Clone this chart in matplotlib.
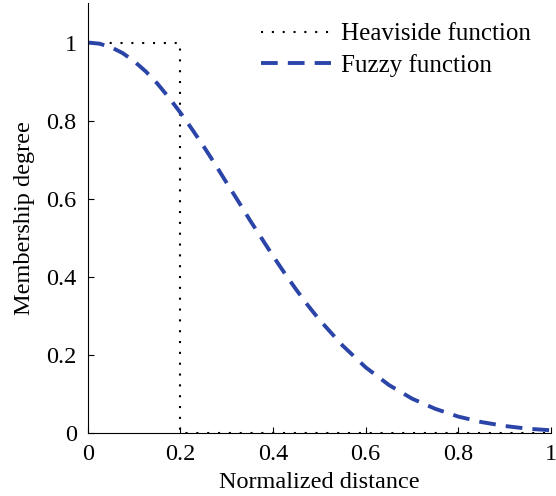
import numpy as np
import matplotlib
matplotlib.use("Agg")
import matplotlib.pyplot as plt

# values
dist = [0.0, 0.025, 0.05, 0.075, 0.1, 0.125, 0.15, 0.175, 0.2, 0.225, 0.25,
        0.275, 0.3, 0.325, 0.35, 0.375, 0.4, 0.425, 0.45, 0.475, 0.5,
        0.55, 0.6, 0.65, 0.7, 0.75, 0.8, 0.85, 0.9, 0.95, 1.0]
fuzzy = [1.0, 0.997, 0.988, 0.973, 0.952, 0.926, 0.895, 0.859, 0.82, 0.778, 0.734,
         0.688, 0.64, 0.593, 0.545, 0.499, 0.453, 0.409, 0.367, 0.327, 0.29,
         0.224, 0.168, 0.123, 0.088, 0.062, 0.042, 0.028, 0.018, 0.011, 0.007]
heav_x = [0.0, 0.2, 0.2, 1.0]
heav_y = [1.0, 1.0, 0.0, 0.0]
ticks = [0, 0.2, 0.4, 0.6, 0.8, 1]
tick_labels = ["0", "0.2", "0.4", "0.6", "0.8", "1"]

plt.rcParams['font.family'] = ['Liberation Serif', 'DejaVu Serif']
plt.rcParams['font.size'] = 17.5

fig = plt.figure(figsize=(5.56, 4.96), dpi=100)
ax = fig.add_axes([0.158, 0.127, 0.833, 0.866])

ax.plot(heav_x, heav_y, color='black', lw=1.5, linestyle=(0, (1, 4.2)),
        label='Heaviside function')
ax.plot(dist, fuzzy, color='#2b44a8', lw=2.8, linestyle=(0, (4.3, 2.6)),
        label='Fuzzy function')

ax.set_xlim(0, 1)
ax.set_ylim(0, 1.1)
ax.set_xticks(ticks)
ax.set_xticklabels(tick_labels)
ax.set_yticks(ticks)
ax.set_yticklabels(tick_labels)
ax.tick_params(direction='in', length=4, width=0.8, pad=8)
ax.spines['top'].set_visible(False)
ax.spines['right'].set_visible(False)
ax.set_xlabel('Normalized distance', labelpad=5)
ax.set_ylabel('Membership degree', labelpad=8)

ax.legend(loc='upper right', bbox_to_anchor=(0.978, 0.978), frameon=False,
          handlelength=2.8, handletextpad=0.4, labelspacing=0.35,
          borderaxespad=0.0, fontsize=18)

fig.savefig('out.png', dpi=100)
